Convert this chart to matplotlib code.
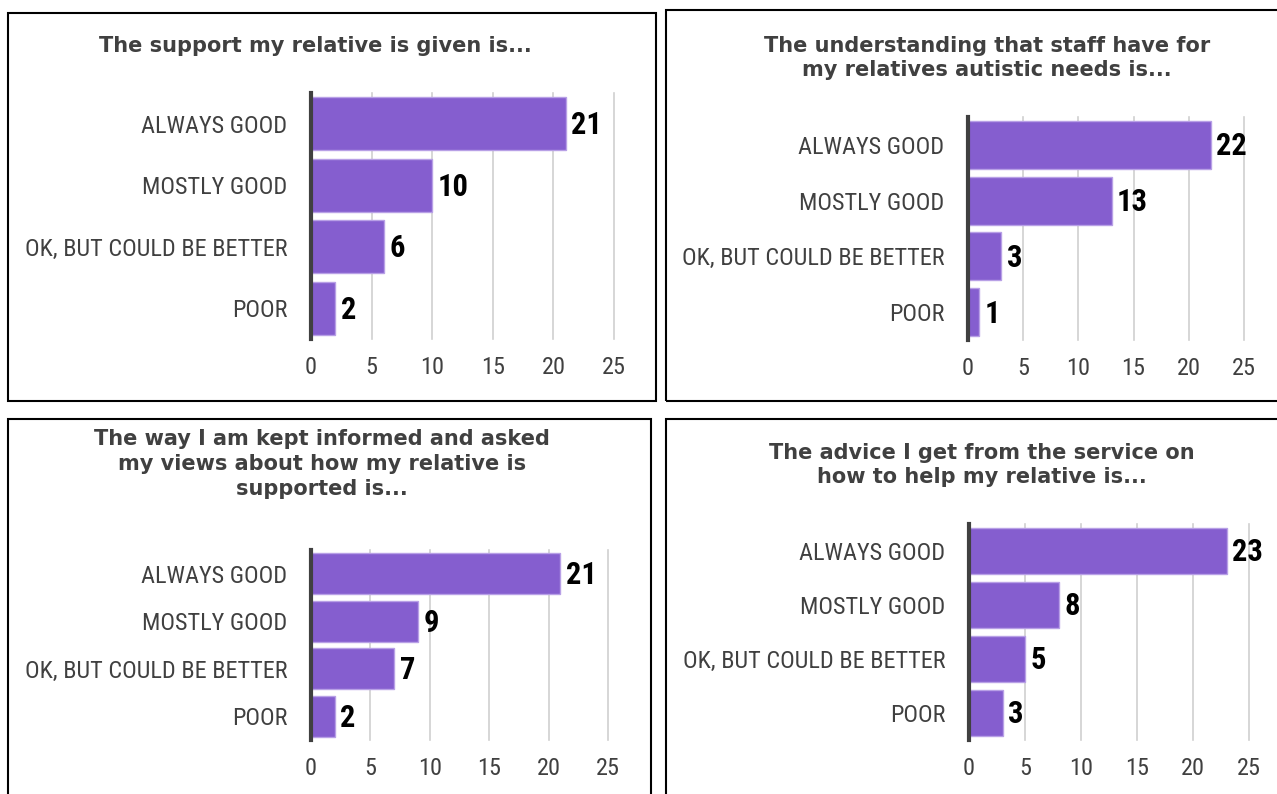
import matplotlib
matplotlib.use("Agg")
import matplotlib.pyplot as plt
from matplotlib import font_manager
from matplotlib.patches import Rectangle

W, H = 1277, 794

categories = ["ALWAYS GOOD", "MOSTLY GOOD", "OK, BUT COULD BE BETTER", "POOR"]

title_support = "The support my relative is given is..."
title_understanding = "The understanding that staff have for\nmy relatives autistic needs is..."
title_informed = "The way I am kept informed and asked\nmy views about how my relative is\nsupported is..."
title_advice = "The advice I get from the service on\nhow to help my relative is..."

support_values = [21, 10, 6, 2]
understanding_values = [22, 13, 3, 1]
informed_values = [21, 9, 7, 2]
advice_values = [23, 8, 5, 3]

x_ticks = [0, 5, 10, 15, 20, 25]

BAR = "#855ECF"
BAR_EDGE = "#B8A0E6"
GRID = "#D0D0D0"
TEXT = "#404040"

# pick a narrow sans if one is around, Lato otherwise
installed = {f.name for f in font_manager.fontManager.ttflist}
narrow = [n for n in ["Roboto Condensed", "Liberation Sans Narrow", "Lato"] if n in installed]
NARROW = narrow[:1] + ["DejaVu Sans"]
LABEL_SIZE = 17.5 if NARROW[0] != "Lato" else 14.5
VALUE_SIZE = 22 if NARROW[0] != "Lato" else 18


def fig_rect(left, top, right, bottom):
    # pixel box -> figure fraction [l, b, w, h]
    return [left / W, 1 - bottom / H, (right - left) / W, (bottom - top) / H]


def draw_panel(fig, rect, values, title, title_xy, box):
    bl, bt, br, bb = box
    fig.patches.append(Rectangle((bl / W, 1 - bb / H), (br - bl) / W, (bb - bt) / H,
                                 transform=fig.transFigure, fill=False,
                                 edgecolor="black", linewidth=1.5))
    fig.text(title_xy[0] / W, 1 - title_xy[1] / H, title, ha="center", va="center",
             fontsize=15, fontweight="bold", color=TEXT, family="DejaVu Sans",
             linespacing=1.3)

    ax = fig.add_axes(fig_rect(*rect))
    y = range(len(categories))
    ax.barh(y, values, height=0.86, color=BAR, edgecolor=BAR_EDGE, linewidth=1, zorder=3)
    ax.set_ylim(len(categories) - 0.5, -0.5)
    ax.set_xlim(0, 25)
    ax.set_xticks(x_ticks)
    ax.set_yticks(list(y))
    ax.set_yticklabels(categories)
    for lab in ax.get_yticklabels() + ax.get_xticklabels():
        lab.set_family(NARROW)
        lab.set_fontsize(LABEL_SIZE)
        lab.set_color(TEXT)
    ax.tick_params(length=0)
    ax.tick_params(axis="y", pad=17)
    ax.tick_params(axis="x", pad=12)
    ax.grid(axis="x", color=GRID, linewidth=1.2, zorder=0)
    for gl in ax.get_xgridlines():
        gl.set_clip_on(False)
    for s in ["top", "right", "bottom"]:
        ax.spines[s].set_visible(False)
    ax.spines["left"].set_color(TEXT)
    ax.spines["left"].set_linewidth(3)
    ax.spines["left"].set_zorder(4)
    for i, v in enumerate(values):
        ax.annotate(str(v), (v, i), xytext=(4, -1), textcoords="offset points",
                    ha="left", va="center", fontsize=VALUE_SIZE, fontweight="bold",
                    color="black", family=NARROW)
    return ax


fig = plt.figure(figsize=(W / 100, H / 100), dpi=100)

draw_panel(fig, (311, 93, 614, 339), support_values, title_support, (315, 46),
           (8, 13, 656, 401))
draw_panel(fig, (968, 117, 1244, 340), understanding_values, title_understanding, (987, 58),
           (666, 10, 1285, 401))
draw_panel(fig, (311, 550, 608, 740), informed_values, title_informed, (322, 464),
           (8, 419, 651, 800))
draw_panel(fig, (969, 524, 1249, 740), advice_values, title_advice, (982, 465),
           (666, 419, 1285, 800))

fig.savefig("out.png", dpi=100, facecolor="white")
